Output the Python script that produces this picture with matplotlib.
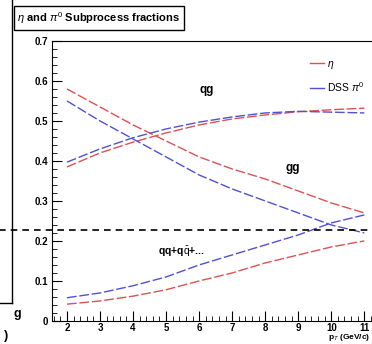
#!/usr/bin/env python3
"""
eta and pi0 subprocess fractions (qg, gg, qq) vs pT.
"""

import matplotlib
matplotlib.use("Agg")
import matplotlib.pyplot as plt
from matplotlib.lines import Line2D
from matplotlib.ticker import MultipleLocator

FONT = ["Liberation Sans", "DejaVu Sans"]
plt.rcParams["font.family"] = FONT
plt.rcParams["mathtext.fontset"] = "custom"
plt.rcParams["mathtext.rm"] = "Liberation Sans"
plt.rcParams["mathtext.it"] = "Liberation Sans:italic"

# pT points (GeV/c)
pt = [2, 3, 4, 5, 6, 7, 8, 9, 10, 11]

# eta (red)
eta_qg = [0.385, 0.420, 0.447, 0.470, 0.490, 0.505, 0.515, 0.523, 0.528, 0.532]
eta_gg = [0.580, 0.535, 0.490, 0.450, 0.410, 0.380, 0.355, 0.325, 0.295, 0.270]
eta_qq = [0.042, 0.050, 0.062, 0.078, 0.100, 0.120, 0.145, 0.165, 0.185, 0.200]

# DSS pi0 (blue)
pi0_qg = [0.397, 0.430, 0.458, 0.480, 0.497, 0.510, 0.520, 0.524, 0.522, 0.520]
pi0_gg = [0.550, 0.500, 0.455, 0.410, 0.365, 0.330, 0.300, 0.270, 0.240, 0.220]
pi0_qq = [0.058, 0.070, 0.088, 0.110, 0.140, 0.165, 0.190, 0.215, 0.245, 0.265]

y_ticks = [0, 0.1, 0.2, 0.3, 0.4, 0.5, 0.6, 0.7]
y_labels = ["0", "0.1", "0.2", "0.3", "0.4", "0.5", "0.6", "0.7"]
x_ticks = [2, 3, 4, 5, 6, 7, 8, 9, 10, 11]

ref_level = 0.228  # dashed black line across the slide

RED = "#e05050"
BLUE = "#5050d8"
DASH = (0, (7, 2))


def main():
    fig = plt.figure(figsize=(3.72, 3.44), dpi=100)
    ax = fig.add_axes([0.140, 0.067, 0.866, 0.814])

    for ys in (eta_qg, eta_gg, eta_qq):
        ax.plot(pt, ys, color=RED, lw=1.0, ls=DASH)
    for ys in (pi0_qg, pi0_gg, pi0_qq):
        ax.plot(pt, ys, color=BLUE, lw=1.0, ls=DASH)

    ax.set_xlim(1.55, 11.3)
    ax.set_ylim(0, 0.7)
    ax.set_yticks(y_ticks)
    ax.set_yticklabels(y_labels)
    ax.set_xticks(x_ticks)
    ax.xaxis.set_minor_locator(MultipleLocator(0.2))
    ax.yaxis.set_minor_locator(MultipleLocator(0.02))
    ax.tick_params(which="major", direction="in", length=7, width=0.8,
                   labelsize=7, pad=3)
    ax.tick_params(axis="x", which="major", pad=1.5)
    ax.tick_params(which="minor", direction="in", length=3.5, width=0.6)
    for lab in ax.get_xticklabels() + ax.get_yticklabels():
        lab.set_fontweight("bold")
    ax.spines["right"].set_visible(False)

    # curve labels
    ax.text(6.0, 0.57, "qg", fontsize=8.5, fontweight="bold")
    ax.text(8.6, 0.375, "gg", fontsize=8.5, fontweight="bold")
    ax.text(4.75, 0.165, r"qq+q$\bar{\rm q}$+...", fontsize=7.5, fontweight="bold")

    # legend
    handles = [Line2D([], [], color=RED, lw=1.0),
               Line2D([], [], color=BLUE, lw=1.0)]
    ax.legend(handles, [r"$\eta$", r"DSS $\pi^0$"], loc="upper right",
              bbox_to_anchor=(1.0, 0.97), frameon=False, fontsize=7.5,
              handlelength=1.4, handletextpad=0.3, labelspacing=0.9)

    # axis title at the slide's bottom-right corner
    fig.text(0.995, 0.002, r"p$_T$ (GeV/c)", ha="right", va="bottom",
             fontsize=6, fontweight="bold")

    # dashed reference line across the whole slide
    ax.axhline(ref_level, xmin=-0.17, xmax=1.0, color="black", lw=1.2,
               ls=(0, (4, 3)), clip_on=False)

    # title box
    fig.text(0.266, 0.948, r"$\eta$ and $\pi^0$ Subprocess fractions",
             ha="center", va="center", fontsize=8, fontweight="bold",
             bbox=dict(boxstyle="square,pad=0.35", fc="white", ec="black", lw=1.0))

    # remnants of neighbouring panel
    fig.add_artist(Line2D([0.033, 0.033], [1.0, 0.118], color="black", lw=1.0,
                          transform=fig.transFigure))
    fig.add_artist(Line2D([0.0, 0.033], [0.118, 0.118], color="black", lw=1.0,
                          transform=fig.transFigure))
    fig.text(0.035, 0.078, "g", fontsize=9, fontweight="bold")
    fig.text(0.012, 0.015, ")", fontsize=9, fontweight="bold")

    fig.savefig("out.png", dpi=100)


if __name__ == "__main__":
    main()
